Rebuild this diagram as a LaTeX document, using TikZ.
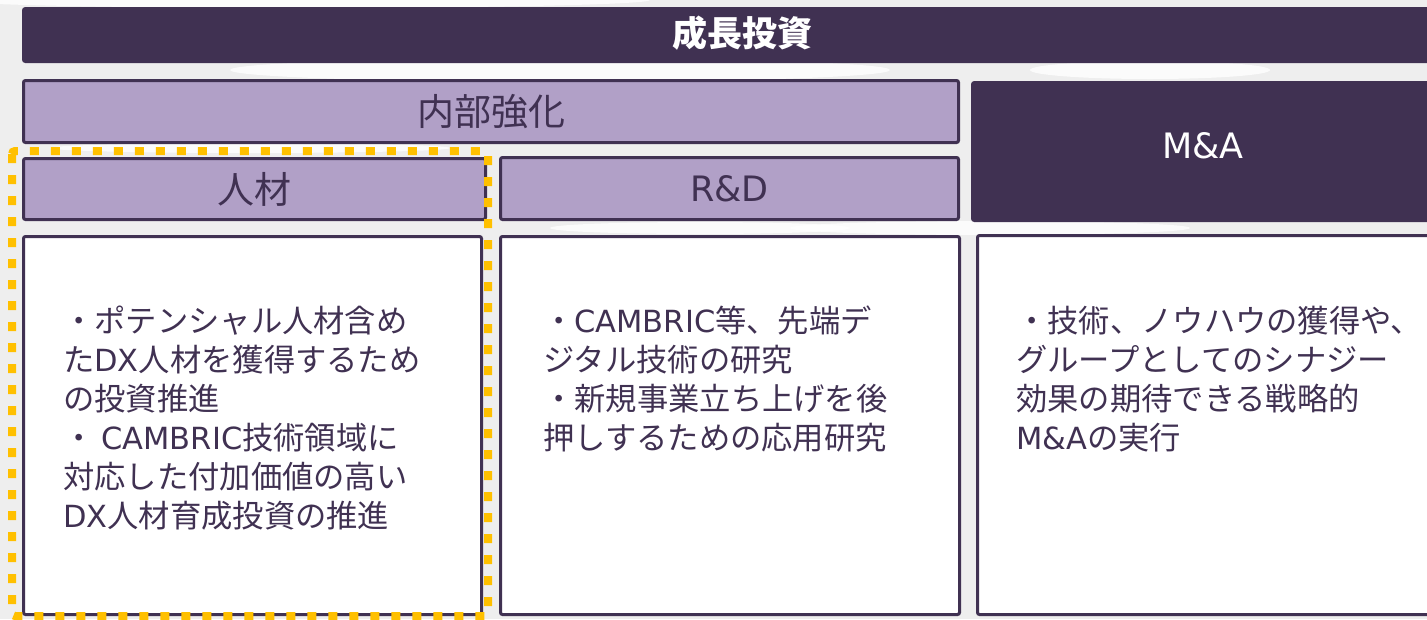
\documentclass[tikz,border=0pt]{standalone}
\usepackage{fontspec}
\newfontfamily\jp{Noto Sans CJK JP}
\newfontfamily\lat{DejaVu Sans}
\newcommand{\la}[1]{{\lat\fontsize{30.5}{39}\selectfont #1}}
\newcommand{\lh}[1]{{\lat\fontsize{35}{40}\selectfont #1}}
\definecolor{dpurple}{HTML}{403152}
\definecolor{lpurple}{HTML}{B1A0C7}
\definecolor{gold}{HTML}{FFC000}
\definecolor{bgc}{HTML}{EEEEEE}
\tikzset{
  box/.style={draw=dpurple, line width=3pt, rounded corners=2pt, inner sep=0pt, anchor=north west},
  lighthead/.style={box, fill=lpurple, text=dpurple, font=\jp\fontsize{37}{40}\selectfont},
  darkhead/.style={box, fill=dpurple, text=white, font=\jp\fontsize{37}{40}\selectfont},
  bodybox/.style={box, fill=white},
  bodytext/.style={anchor=north west, align=left, text=dpurple, inner sep=0pt, font=\jp\fontsize{31.3}{39}\selectfont},
  cloud/.style={fill=white, opacity=0.8},
}
\begin{document}
\begin{tikzpicture}[x=1pt,y=-1pt]
\useasboundingbox (0,0) rectangle (1427,619);
\clip (0,0) rectangle (1427,619);
% background
\fill[bgc] (0,0) rectangle (1427,619);
\fill[cloud] (560,70) ellipse (330 and 12);
\fill[cloud] (1150,70) ellipse (120 and 9);
\fill[cloud] (300,0) ellipse (350 and 8);
\fill[cloud] (990,228) ellipse (200 and 7);
\fill[cloud] (700,228) ellipse (150 and 6);
\fill[cloud] (250,148) ellipse (200 and 5);
% top bar
\node[darkhead, minimum width=1448pt, minimum height=53pt] (top) at (22,7) {};
\node[text=white, font=\jp\bfseries\fontsize{35}{38}\selectfont] (toptext) at (742,33) {成長投資};
% headers
\node[lighthead, minimum width=935pt, minimum height=62pt] (naibu) at (22,79) {内部強化};
\node[lighthead, minimum width=462pt, minimum height=61pt] (jinzai) at (22,157) {人材};
\node[lighthead, minimum width=458pt, minimum height=62pt] (rd) at (499,156) {\lh{R\&D}};
\node[darkhead, minimum width=500pt, minimum height=138pt] (ma) at (971,81) {};
\node[text=white] (matext) at (1203,146) {\lh{M\&A}};
% body boxes
\node[bodybox, minimum width=458pt, minimum height=378pt] (b1) at (22,235) {};
\node[bodybox, minimum width=459pt, minimum height=378pt] (b2) at (499,235) {};
\node[bodybox, minimum width=500pt, minimum height=379pt] (b3) at (976,234) {};
% highlight
\draw[gold, line width=8pt, dash pattern=on 9pt off 12pt, rounded corners=3pt] (12,151) rectangle (488,616);
% texts
\node[bodytext] (t1) at (63,306) {・ポテンシャル人材含め\\た\la{DX}人材を獲得するため\\の投資推進\\・ \la{CAMBRIC}技術領域に\\対応した付加価値の高い\\\la{DX}人材育成投資の推進};
\node[bodytext] (t2) at (543,306) {・\la{CAMBRIC}等、先端デ\\ジタル技術の研究\\・新規事業立ち上げを後\\押しするための応用研究};
\node[bodytext] (t3) at (1016,306) {・技術、ノウハウの獲得や、\\グループとしてのシナジー\\効果の期待できる戦略的\\\la{M\&A}の実行};
\end{tikzpicture}
\end{document}
